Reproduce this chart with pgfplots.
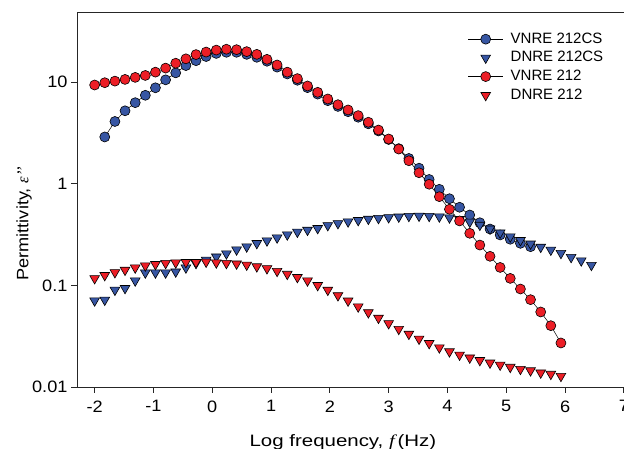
\documentclass[border=0pt]{standalone}
\usepackage{fontspec}
\setmainfont{Liberation Sans}
\newfontfamily\serif{Liberation Serif}
\newfontfamily\ticksfont[FakeStretch=1.1]{Liberation Sans}
\newfontfamily\xlabfont[FakeStretch=1.24]{Liberation Sans}
\newfontfamily\xlabserif[FakeStretch=1.24]{Liberation Serif}
\usepackage{pgfplots}
\pgfplotsset{compat=1.18}
\definecolor{cblue}{RGB}{55,86,163}
\definecolor{cred}{RGB}{236,30,38}
\begin{document}
\begin{tikzpicture}
\begin{axis}[
  scale only axis,
  width=564.5bp, height=375bp,
  xmin=-2.3, xmax=7.3,
  ymode=log, ymin=0.01, ymax=48.8,
  axis line style={draw=black!85, line width=0.9bp},
  xtick={-2,-1,0,1,2,3,4,5,6,7},
  xticklabels={-2,-1,0,1,2,3,4,5,6,7},
  ytick={0.01,0.1,1,10},
  yticklabels={0.01,0.1,1,10},
  yminorticks=false,
  xtick pos=bottom, ytick pos=left,
  tick align=outside,
  major tick length=6bp,
  tick style={black!85, line width=0.8bp},
  tick label style={font=\ticksfont\fontsize{16.5bp}{19bp}\selectfont},
  xticklabel style={yshift=-4bp},
  xlabel={\xlabfont Log frequency, {\xlabserif\itshape f\,}(Hz)},
  ylabel={\ticksfont Permittivity, {\serif\itshape ε’’}},
  label style={font=\fontsize{16.5bp}{19bp}\selectfont},
  xlabel style={at={(axis description cs:0.471,0)}, anchor=north, yshift=-44bp},
  ylabel style={at={(axis description cs:-0.0939,0.4347)}, anchor=center},
  legend style={draw=none, fill=none, inner sep=0pt, at={(axis description cs:0.6922,0.953)}, anchor=north west,
    font=\fontsize{15bp}{18bp}\selectfont, row sep=0pt,
    nodes={inner sep=2.25bp, text height=11bp, text depth=3.2bp},
    /tikz/every odd column/.append style={column sep=5bp}},
  legend cell align=left,
  legend image code/.code={\draw[mark repeat=2,mark phase=2,#1] plot coordinates {(0bp,0bp) (17.5bp,0bp) (35bp,0bp)};},
]
\addplot[black, line width=0.5bp, mark=*, mark size=5bp, mark options={fill=cblue, draw=black, line width=0.6bp}] coordinates {
(-1.828,2.88) (-1.655,4.09) (-1.483,5.21) (-1.310,6.26) (-1.138,7.40) (-0.966,8.77) (-0.793,10.5) (-0.621,12.3)
(-0.448,14.5) (-0.276,16.2) (-0.104,17.8) (0.069,19.1) (0.241,19.6) (0.414,19.6) (0.586,18.7) (0.758,17.5)
(0.931,16.0) (1.103,14.0) (1.276,12.0) (1.448,10.4) (1.620,8.8) (1.793,7.6) (1.965,6.55) (2.138,5.75)
(2.310,5.1) (2.482,4.5) (2.655,3.88) (2.827,3.3) (3.000,2.72) (3.172,2.21) (3.344,1.77) (3.517,1.42)
(3.689,1.10) (3.862,0.88) (4.034,0.711) (4.206,0.586) (4.379,0.492) (4.551,0.413) (4.724,0.358) (4.896,0.313)
(5.068,0.284) (5.241,0.259) (5.413,0.240)
};
\addlegendentry{VNRE 212CS}
\addplot[only marks, mark=triangle*, mark size=5.6bp, mark options={rotate=180, fill=cblue, draw=black, line width=0.6bp}] coordinates {
(-2.000,0.0706) (-1.828,0.0718) (-1.655,0.090) (-1.483,0.0936) (-1.310,0.111) (-1.138,0.133) (-0.966,0.133) (-0.793,0.133)
(-0.621,0.136) (-0.448,0.149) (-0.276,0.165) (-0.104,0.178) (0.069,0.191) (0.241,0.205) (0.414,0.224) (0.586,0.240)
(0.758,0.259) (0.931,0.275) (1.103,0.294) (1.276,0.315) (1.448,0.335) (1.620,0.350) (1.793,0.364) (1.965,0.389)
(2.138,0.407) (2.310,0.423) (2.482,0.436) (2.655,0.449) (2.827,0.457) (3.000,0.465) (3.172,0.472) (3.344,0.479)
(3.517,0.481) (3.689,0.479) (3.862,0.473) (4.034,0.463) (4.206,0.446) (4.379,0.420) (4.551,0.392) (4.724,0.360)
(4.896,0.329) (5.068,0.301) (5.241,0.277) (5.413,0.256) (5.586,0.238) (5.758,0.223) (5.930,0.207) (6.103,0.189)
(6.275,0.175) (6.448,0.158)
};
\addlegendentry{DNRE 212CS}
\addplot[black, line width=0.5bp, mark=*, mark size=5bp, mark options={fill=cred, draw=black, line width=0.6bp}] coordinates {
(-2.000,9.34) (-1.828,9.84) (-1.655,10.2) (-1.483,10.6) (-1.310,11.1) (-1.138,11.6) (-0.966,12.5) (-0.793,13.7)
(-0.621,15.3) (-0.448,16.9) (-0.276,18.6) (-0.104,19.7) (0.069,20.6) (0.241,21.0) (0.414,20.8) (0.586,19.9)
(0.758,18.7) (0.931,16.7) (1.103,14.7) (1.276,12.5) (1.448,10.8) (1.620,9.14) (1.793,7.92) (1.965,6.81)
(2.138,5.98) (2.310,5.31) (2.482,4.67) (2.655,4.02) (2.827,3.37) (3.000,2.75) (3.172,2.19) (3.344,1.68)
(3.517,1.28) (3.689,0.987) (3.862,0.745) (4.034,0.560) (4.206,0.430) (4.379,0.325) (4.551,0.249) (4.724,0.193)
(4.896,0.150) (5.068,0.117) (5.241,0.092) (5.413,0.0723) (5.586,0.0547) (5.758,0.0401) (5.930,0.0271)
};
\addlegendentry{VNRE 212}
\addplot[only marks, mark=triangle*, mark size=5.6bp, mark options={rotate=180, fill=cred, draw=black, line width=0.6bp}] coordinates {
(-2.000,0.117) (-1.828,0.1255) (-1.655,0.134) (-1.483,0.1415) (-1.310,0.149) (-1.138,0.156) (-0.966,0.161) (-0.793,0.165)
(-0.621,0.167) (-0.448,0.1686) (-0.276,0.1686) (-0.104,0.170) (0.069,0.167) (0.241,0.165) (0.414,0.163) (0.586,0.159)
(0.758,0.153) (0.931,0.1465) (1.103,0.138) (1.276,0.129) (1.448,0.120) (1.620,0.111) (1.793,0.100) (1.965,0.0899)
(2.138,0.0794) (2.310,0.0704) (2.482,0.0616) (2.655,0.054) (2.827,0.0477) (3.000,0.0422) (3.172,0.0371) (3.344,0.0332)
(3.517,0.0297) (3.689,0.0269) (3.862,0.0244) (4.034,0.0223) (4.206,0.0207) (4.379,0.0194) (4.551,0.0183) (4.724,0.0173)
(4.896,0.0165) (5.068,0.0157) (5.241,0.0150) (5.413,0.0145) (5.586,0.0138) (5.758,0.0134) (5.930,0.0128)
};
\addlegendentry{DNRE 212}
\end{axis}
\pgfresetboundingbox
\path[use as bounding box] ([xshift=-77bp,yshift=-62bp]current axis.south west) rectangle ([xshift=547bp,yshift=12bp]current axis.north west);
\end{tikzpicture}
\end{document}
